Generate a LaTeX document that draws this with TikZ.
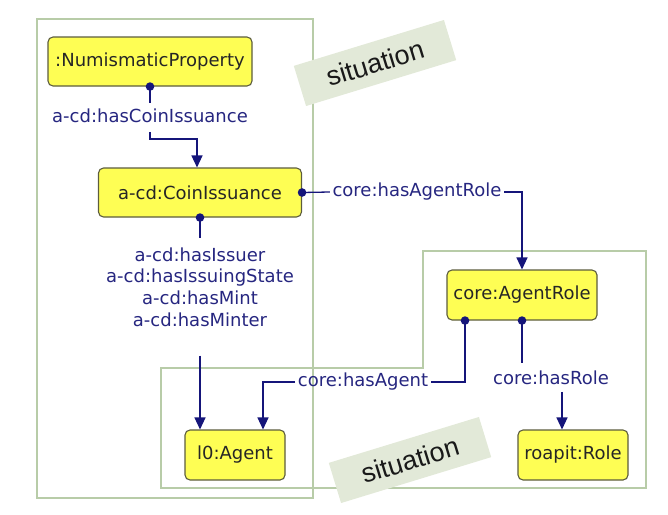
\documentclass[tikz,border=0pt]{standalone}
\usepackage{fontspec}
\setmainfont{DejaVu Sans}
\newfontfamily\sitfont{Liberation Sans}
\usetikzlibrary{arrows.meta}
\definecolor{nodefill}{HTML}{FEFE54}
\definecolor{nodeborder}{HTML}{5C5C3D}
\definecolor{edgeblue}{HTML}{15157A}
\definecolor{labelblue}{HTML}{262680}
\definecolor{contgreen}{HTML}{B8CCA8}
\definecolor{sitgreen}{HTML}{E2E9D8}
\newcommand{\nfont}{\fontsize{18}{21.7}\selectfont}
\tikzset{
  cls/.style={draw=nodeborder, fill=nodefill, rounded corners=5pt, line width=1.1pt,
    font=\nfont, text=black!85, inner sep=0pt, minimum height=49pt},
  lbl/.style={text=labelblue, font=\nfont, inner xsep=2.5pt, inner ysep=0pt,
    text height=13.5pt, text depth=4pt},
  lblstack/.style={text=labelblue, font=\nfont, inner sep=0pt, align=center},
  edge/.style={draw=edgeblue, line width=1.3pt},
  arr/.style={edge, -{Triangle[length=12pt,width=11pt]}},
  cont/.style={draw=contgreen, line width=1.3pt},
  sit/.style={fill=sitgreen, rotate=17, minimum width=157pt, minimum height=42pt,
    inner sep=0pt, text=black!90, font=\sitfont\fontsize{27}{27}\selectfont},
}
\begin{document}
\begin{tikzpicture}[x=1pt,y=-1pt]
\useasboundingbox (0,0) rectangle (668,514);
% containers
\draw[cont] (37,19) rectangle (313,498);
\draw[cont] (423,251) -- (646,251) -- (646,488) -- (161,488) -- (161,368) -- (423,368) -- cycle;
% situation labels
\node[sit] (sit1) at (375,63) {situation};
\node[sit] (sit2) at (410,460) {situation};
% class nodes
\node[cls, minimum width=204pt] (np) at (150,61.5) {:NumismaticProperty};
\node[cls, minimum width=203pt] (ci) at (200,192.5) {a-cd:CoinIssuance};
\node[cls, minimum width=150pt, minimum height=50pt] (ar) at (522,295) {core:AgentRole};
\node[cls, minimum width=100pt, minimum height=50pt] (ag) at (235,455) {l0:Agent};
\node[cls, minimum width=110pt, minimum height=50pt] (ro) at (573,455) {roapit:Role};
% labels
\node[lbl] (l1) at (150,118) {a-cd:hasCoinIssuance};
\node[lblstack] (l2) at (200,287) {a-cd:hasIssuer\\a-cd:hasIssuingState\\a-cd:hasMint\\a-cd:hasMinter};
\node[lbl] (l3) at (417,192) {core:hasAgentRole};
\node[lbl] (l4) at (363,382) {core:hasAgent};
\node[lbl] (l5) at (551,380) {core:hasRole};
% edge 1
\fill[edgeblue] (np.south) circle (4.3pt);
\draw[edge] (np.south) -- ([yshift=6pt]l1.north);
\draw[arr] ([yshift=-5pt]l1.south) -- ++(0,7) -| ([xshift=-3pt]ci.north);
% edge 2
\fill[edgeblue] (ci.south) circle (4.3pt);
\draw[edge] (ci.south) -- ([yshift=9pt]l2.north);
\draw[arr] ([yshift=-29pt]l2.south) -- (l2.south |- ag.north);
% edge 3
\fill[edgeblue] (ci.east) circle (4.3pt);
\draw[edge] (ci.east) -- (l3.west);
\draw[arr] (l3.east) -| (ar.north);
% edge 4
\coordinate (ar4) at ([xshift=-57pt]ar.south);
\fill[edgeblue] (ar4) circle (4.3pt);
\draw[edge] (ar4) |- (l4.east);
\draw[arr] (l4.west) -| ([xshift=28pt]ag.north);
% edge 5
\fill[edgeblue] (ar.south) circle (4.3pt);
\draw[edge] (ar.south) -- ([yshift=8pt]ar.south |- l5.north);
\draw[arr] ([xshift=11pt,yshift=-3pt]l5.south) -- ([xshift=-11pt]ro.north);
\end{tikzpicture}
\end{document}
